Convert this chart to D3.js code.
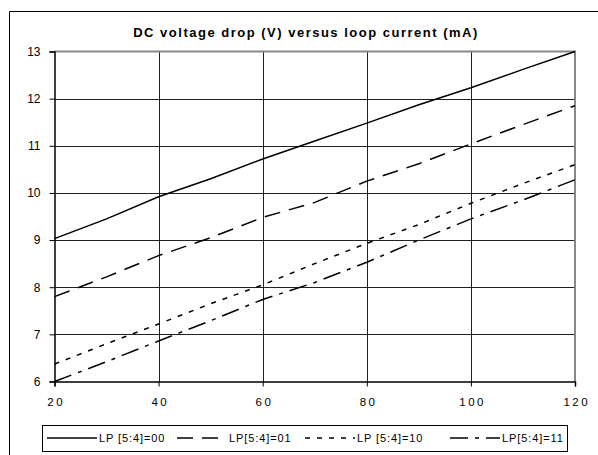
<!DOCTYPE html>
<html>
<head>
<meta charset="utf-8">
<script src="https://cdn.jsdelivr.net/npm/d3@7"></script>
<style>
  body { margin: 0; background: #fff; }
  text { font-family: "Liberation Sans", Arial, sans-serif; fill: #000; }
  .grid-line { stroke: #222; stroke-width: 1; }
  .series { fill: none; stroke: #000; stroke-width: 1.5; }
</style>
</head>
<body>
<script>
const current = [20, 30, 40, 50, 60, 70, 80, 90, 100, 110, 120];
const lp00 = [9.03, 9.45, 9.92, 10.3, 10.72, 11.1, 11.48, 11.87, 12.23, 12.62, 13.0];
const lp01 = [7.8, 8.22, 8.67, 9.05, 9.48, 9.8, 10.25, 10.62, 11.04, 11.45, 11.85];
const lp10 = [6.37, 6.8, 7.22, 7.65, 8.05, 8.5, 8.93, 9.33, 9.78, 10.2, 10.6];
const lp11 = [6.0, 6.42, 6.86, 7.29, 7.74, 8.1, 8.53, 9.0, 9.45, 9.85, 10.28];
const seriesNames = ["LP [5:4]=00", "LP[5:4]=01", "LP [5:4]=10", "LP[5:4]=11"];
const dashes = ["none", "16,9", "5,7", "18,7,4,7"];
const xTicks = [20, 40, 60, 80, 100, 120];
const yTicks = [6, 7, 8, 9, 10, 11, 12, 13];

const width = 598, height = 455;
const plot = { left: 54.5, right: 575, top: 51.5, bottom: 381.5 };

const svg = d3.select("body").append("svg").attr("width", width).attr("height", height);

// outer frame (right and bottom run off the page)
svg.append("path")
  .attr("d", `M9.5,${height + 5}V11.5H${width + 5}`)
  .attr("fill", "none").attr("stroke", "#000").attr("stroke-width", 1);

svg.append("text")
  .attr("x", 306).attr("y", 37)
  .attr("text-anchor", "middle")
  .attr("font-size", 13).attr("font-weight", "bold")
  .attr("letter-spacing", 1.5)
  .text("DC voltage drop (V) versus loop current (mA)");

const xScale = d3.scaleLinear().domain([20, 120]).range([plot.left, plot.right]);
const yScale = d3.scaleLinear().domain([6, 13]).range([plot.bottom, plot.top]);

// grid
const graph = svg.append("g");
graph.append("g").selectAll("line")
  .data(xTicks.slice(1, -1))
  .join("line")
  .attr("class", "grid-line")
  .attr("x1", d => Math.round(xScale(d)) + 0.5).attr("x2", d => Math.round(xScale(d)) + 0.5)
  .attr("y1", plot.top).attr("y2", plot.bottom);
graph.append("g").selectAll("line")
  .data(yTicks.slice(1, -1))
  .join("line")
  .attr("class", "grid-line")
  .attr("x1", plot.left).attr("x2", plot.right)
  .attr("y1", d => Math.round(yScale(d)) + 0.5).attr("y2", d => Math.round(yScale(d)) + 0.5);

// gray top and right borders
graph.append("path")
  .attr("d", `M${plot.left},${plot.top}H${plot.right}V${plot.bottom}`)
  .attr("fill", "none").attr("stroke", "#888").attr("stroke-width", 2);

// axes
const xAxis = d3.axisBottom(xScale).tickValues(xTicks).tickSize(5).tickPadding(11)
  .tickFormat(d3.format("d"));
const gx = graph.append("g")
  .attr("transform", `translate(0,${plot.bottom})`)
  .call(xAxis);
gx.select(".domain").attr("stroke-width", 1.5);
gx.selectAll("text").attr("font-size", 11.5).attr("letter-spacing", 2.5)
  .attr("dx", 1.25)
  .attr("font-family", "Liberation Sans, Arial, sans-serif");

const yAxis = d3.axisLeft(yScale).tickValues(yTicks).tickSize(5).tickPadding(9)
  .tickFormat(d3.format("d"));
const gy = graph.append("g")
  .attr("transform", `translate(${plot.left},0)`)
  .call(yAxis);
gy.select(".domain").attr("stroke-width", 1.5);
gy.selectAll("text").attr("font-size", 12)
  .attr("font-family", "Liberation Sans, Arial, sans-serif");

// series
const allSeries = [lp00, lp01, lp10, lp11];
const line = d3.line().x((d, i) => xScale(current[i])).y(d => yScale(d));
graph.append("g").selectAll("path")
  .data(allSeries)
  .join("path")
  .attr("class", "series")
  .attr("stroke-dasharray", (d, i) => dashes[i])
  .attr("d", line);

// legend
const legend = svg.append("g");
legend.append("rect")
  .attr("x", 42.5).attr("y", 425.5).attr("width", 525).attr("height", 26)
  .attr("fill", "#fff").attr("stroke", "#000");

const legendX = [47, 177, 305, 450];
const sampleLen = 50;
const item = legend.selectAll("g.item")
  .data(seriesNames)
  .join("g")
  .attr("class", "item")
  .attr("transform", (d, i) => `translate(${legendX[i]},438)`);
item.append("line")
  .attr("x1", 0).attr("x2", sampleLen)
  .attr("stroke", "#000").attr("stroke-width", 1.5)
  .attr("stroke-dasharray", (d, i) => dashes[i]);
item.append("text")
  .attr("x", sampleLen + 2)
  .attr("dy", "0.35em")
  .attr("font-size", 11).attr("letter-spacing", 0.9)
  .text(d => d);
</script>
</body>
</html>
